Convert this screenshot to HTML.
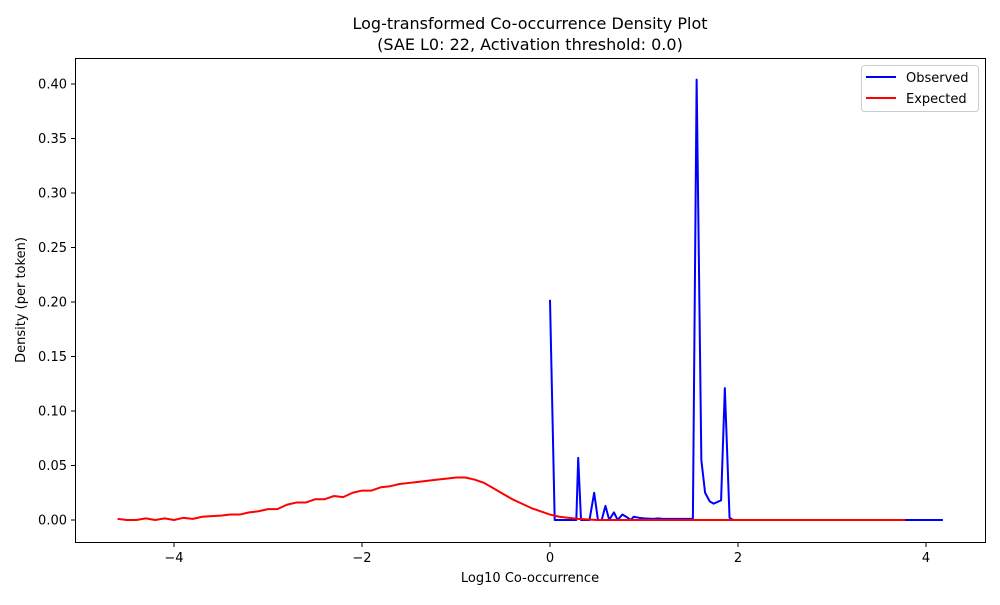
<!DOCTYPE html>
<html><head><meta charset="utf-8"><style>
body{margin:0;background:#fff;font-family:"Liberation Sans","DejaVu Sans",sans-serif}
</style></head><body>
<svg id="chart" width="1000" height="600" xmlns="http://www.w3.org/2000/svg" font-family="DejaVu Sans, Liberation Sans, sans-serif">
<rect width="1000" height="600" fill="#fff"/>
<text x="530" y="29" text-anchor="middle" font-size="16">Log-transformed Co-occurrence Density Plot</text>
<text x="530" y="50" text-anchor="middle" font-size="16">(SAE L0: 22, Activation threshold: 0.0)</text>
<g id="ticks"></g>
<g id="series"></g>
<rect x="75.5" y="58.5" width="910" height="484" fill="none" stroke="#000" stroke-width="1"/>
<text x="530" y="582" text-anchor="middle" font-size="13">Log10 Co-occurrence</text>
<text transform="translate(25,300) rotate(-90)" text-anchor="middle" font-size="13">Density (per token)</text>
<g>
<rect x="861.5" y="65.5" width="117" height="46" rx="3" fill="#fff" stroke="#ccc"/>
<line x1="866" y1="77" x2="896" y2="77" stroke="#0000ff" stroke-width="2"/>
<text x="906" y="82" font-size="13">Observed</text>
<line x1="866" y1="98" x2="896" y2="98" stroke="#ff0000" stroke-width="2"/>
<text x="906" y="103" font-size="13">Expected</text>
</g>
</svg>
<script>
const xTicks=[-4,-2,0,2,4];
const yTicks=[0,0.05,0.10,0.15,0.20,0.25,0.30,0.35,0.40];
const obsX=[0,0.05,0.1,0.15,0.2,0.25,0.28,0.30,0.33,0.38,0.42,0.47,0.51,0.55,0.59,0.63,0.68,0.72,0.77,0.81,0.86,0.89,0.95,1.0,1.1,1.15,1.2,1.3,1.4,1.52,1.56,1.61,1.65,1.70,1.74,1.82,1.86,1.91,1.95,2.5,3.0,3.5,4.18];
const obsY=[0.202,0,0,0,0,0,0,0.057,0,0,0,0.025,0,0,0.013,0,0.007,0,0.005,0.003,0,0.003,0.002,0.0015,0.001,0.0015,0.001,0.001,0.001,0.001,0.404,0.055,0.025,0.017,0.015,0.018,0.121,0.002,0,0,0,0,0];
const expX=[-4.6,-4.5,-4.4,-4.3,-4.2,-4.1,-4.0,-3.9,-3.8,-3.7,-3.6,-3.5,-3.4,-3.3,-3.2,-3.1,-3.0,-2.9,-2.8,-2.7,-2.6,-2.5,-2.4,-2.3,-2.2,-2.1,-2.0,-1.9,-1.8,-1.7,-1.6,-1.5,-1.4,-1.3,-1.2,-1.1,-1.0,-0.9,-0.8,-0.7,-0.6,-0.5,-0.4,-0.3,-0.2,-0.1,0,0.1,0.2,0.3,0.5,1.0,2.0,3.0,3.78];
const expY=[0.001,0,0,0.0015,0,0.0015,0,0.002,0.001,0.003,0.0035,0.004,0.005,0.005,0.007,0.008,0.010,0.010,0.014,0.016,0.016,0.019,0.019,0.022,0.021,0.025,0.027,0.027,0.030,0.031,0.033,0.034,0.035,0.036,0.037,0.038,0.039,0.039,0.037,0.034,0.029,0.024,0.019,0.015,0.011,0.008,0.005,0.003,0.002,0.001,0,0,0,0,0];
const NS="http://www.w3.org/2000/svg";
function sx(v){return 550+v*94;}
function sy(v){return 520-v*1090;}
const tg=document.getElementById('ticks');
function mk(tag,attrs,parent){const e=document.createElementNS(NS,tag);for(const k in attrs)e.setAttribute(k,attrs[k]);parent.appendChild(e);return e;}
xTicks.forEach(t=>{
  const l=mk('line',{x1:sx(t),x2:sx(t),y1:542.5,y2:547,stroke:'#000'},tg);
  
  
  const tx=mk('text',{x:sx(t),y:562,'text-anchor':'middle','font-size':13},tg);
  
  
  tx.textContent=(t<0?'\u2212'+(-t):t);
});
yTicks.forEach(t=>{
  const l=mk('line',{x1:71,x2:75.5,y1:sy(t),y2:sy(t),stroke:'#000'},tg);
  
  
  const tx=mk('text',{x:67,y:sy(t)+4.5,'text-anchor':'end','font-size':13},tg);
  
  
  tx.textContent=t.toFixed(2);
});
const sg=document.getElementById('series');
function line(xs,ys,color,name){
  const p=mk('polyline',{points:xs.map((x,i)=>sx(x)+','+sy(ys[i])).join(' '),fill:'none',stroke:color,'stroke-width':2,'stroke-linejoin':'round'},sg);
  
  
}
line(obsX,obsY,'#0000ff','observed-line');
line(expX,expY,'#ff0000','expected-line');
</script>
</body></html>
